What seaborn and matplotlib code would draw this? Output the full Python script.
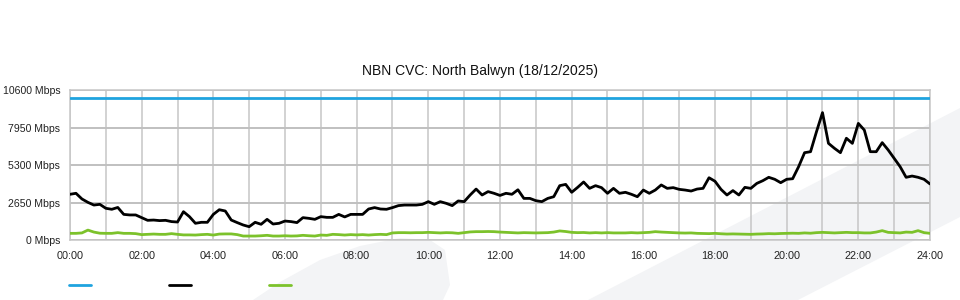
import numpy as np
import pandas as pd
import matplotlib
matplotlib.use("Agg")
import matplotlib.pyplot as plt
from matplotlib.patches import Polygon
from matplotlib.lines import Line2D
import seaborn as sns

# ---------------- data (10-minute samples, Mbps) ----------------
title = "NBN CVC: North Balwyn (18/12/2025)"
y_ticks = [0, 2650, 5300, 7950, 10600]
y_tick_labels = ["0 Mbps", "2650 Mbps", "5300 Mbps", "7950 Mbps", "10600 Mbps"]
x_ticks = list(range(0, 25, 2))
x_tick_labels = ["%02d:00" % h for h in x_ticks]

capacity_mbps = 10000

traffic_mbps = [
    3230, 3300, 2900, 2660, 2470, 2520,
    2240, 2170, 2300, 1810, 1770, 1770,
    1580, 1390, 1410, 1370, 1390, 1300,
    1270, 2000, 1650, 1180, 1250, 1250,
    1810, 2140, 2050, 1410, 1230, 1060,
    940, 1250, 1110, 1460, 1130, 1180,
    1340, 1300, 1230, 1580, 1530, 1460,
    1650, 1600, 1600, 1810, 1630, 1810,
    1810, 1810, 2190, 2290, 2190, 2170,
    2290, 2430, 2470, 2470, 2470, 2520,
    2710, 2520, 2710, 2590, 2430, 2760,
    2710, 3180, 3600, 3180, 3420, 3300,
    3150, 3300, 3230, 3550, 2940, 2940,
    2780, 2710, 2940, 3060, 3840, 3930,
    3370, 3720, 4100, 3650, 3840, 3700,
    3300, 3650, 3300, 3370, 3230, 3060,
    3530, 3300, 3530, 3890, 3650, 3700,
    3580, 3530, 3460, 3600, 3650, 4400,
    4150, 3580, 3180, 3490, 3180, 3720,
    3650, 4000, 4190, 4430, 4290, 4050,
    4290, 4330, 5180, 6170, 6240, 7660,
    9000, 6830, 6480, 6170, 7190, 6830,
    8240, 7770, 6240, 6240, 6880, 6360,
    5770, 5180, 4430, 4520, 4430, 4290,
    3960,
]

upload_mbps = [
    470, 470, 500, 700, 560, 480,
    470, 470, 520, 470, 470, 450,
    380, 400, 420, 400, 400, 450,
    400, 360, 360, 350, 380, 400,
    350, 420, 430, 430, 380, 280,
    280, 280, 300, 330, 280, 280,
    300, 280, 290, 330, 300, 280,
    350, 330, 400, 380, 350, 380,
    360, 380, 350, 380, 400, 380,
    500, 520, 520, 510, 520, 520,
    540, 520, 500, 520, 510, 470,
    520, 570, 590, 590, 600, 590,
    560, 540, 520, 500, 520, 510,
    500, 510, 520, 560, 640, 600,
    540, 520, 530, 500, 520, 500,
    520, 500, 500, 500, 520, 500,
    520, 540, 590, 560, 540, 520,
    500, 490, 500, 470, 460, 450,
    470, 440, 420, 430, 420, 410,
    400, 420, 430, 450, 440, 460,
    470, 480, 470, 500, 480, 520,
    540, 520, 500, 520, 540, 520,
    520, 500, 500, 560, 660, 540,
    520, 500, 560, 540, 660, 520,
    470,
]

series_names = ["Capacity", "Traffic", "Upload"]
series_colors = ["#1fa3df", "#000000", "#7cc22b"]

n = len(traffic_mbps)
hours = np.arange(n) / 6.0
df = pd.concat([
    pd.DataFrame({"hour": hours, "mbps": [capacity_mbps] * n, "series": series_names[0]}),
    pd.DataFrame({"hour": hours, "mbps": traffic_mbps, "series": series_names[1]}),
    pd.DataFrame({"hour": hours[:len(upload_mbps)], "mbps": upload_mbps, "series": series_names[2]}),
], ignore_index=True)

# ---------------- figure ----------------
sns.set_style("white")
plt.rcParams["font.family"] = ["Liberation Sans", "DejaVu Sans"]

W, H = 960, 300
fig = plt.figure(figsize=(W / 100, H / 100), dpi=100)
fig.patch.set_facecolor("white")

def fx(px):
    return px / W

def fy(py):
    return 1 - py / H

# faint background watermark shapes (behind everything)
wm = "#f3f4f6"
swoosh = [(253, 300), (280, 282), (320, 260), (360, 246), (400, 238), (430, 240),
          (445, 250), (450, 285), (443, 300)]
band = [(588, 300), (960, 108), (960, 217), (798, 300)]
for shape in (swoosh, band):
    fig.patches.append(Polygon([(fx(a), fy(b)) for a, b in shape], closed=True,
                               transform=fig.transFigure, facecolor=wm,
                               edgecolor="none", zorder=-10))

ax = fig.add_axes([fx(70), fy(240), fx(930) - fx(70), fy(90) - fy(240)])
ax.set_zorder(5)
ax.set_facecolor("none")
ax.patch.set_alpha(0)

sns.lineplot(data=df, x="hour", y="mbps", hue="series", palette=series_colors,
             hue_order=series_names, linewidth=2, ax=ax, legend=False, zorder=3)

ax.set_xlim(0, 24)
ax.set_ylim(0, 10600)
ax.set_xticks(x_ticks)
ax.set_xticklabels(x_tick_labels, fontsize=7.8, color="#222222")
ax.set_xticks(range(0, 25), minor=True)
ax.set_yticks(y_ticks)
ax.set_yticklabels(y_tick_labels, fontsize=7.6, color="#222222")
ax.set_xlabel("")
ax.set_ylabel("")

ax.grid(True, which="both", axis="x", color="#c6c6c6", linewidth=1.1, zorder=1)
ax.grid(True, which="major", axis="y", color="#c0c0c0", linewidth=1.4, zorder=1)
ax.tick_params(axis="x", which="major", length=4, width=1, color="#c0c0c0", pad=4)
ax.tick_params(axis="x", which="minor", length=0)
ax.tick_params(axis="y", length=0, pad=7)
for side in ["left", "right", "top", "bottom"]:
    ax.spines[side].set_color("#c6c6c6")
    ax.spines[side].set_linewidth(1.1)

fig.text(0.5, fy(71), title, ha="center", va="center", fontsize=10, color="#111111")

# legend swatches (labels are empty in the reference)
for x0, c in zip([69, 169, 269], series_colors):
    fig.add_artist(Line2D([fx(x0), fx(x0 + 22)], [fy(285), fy(285)],
                          transform=fig.transFigure, color=c, linewidth=2))

fig.savefig("out.png", dpi=100)
